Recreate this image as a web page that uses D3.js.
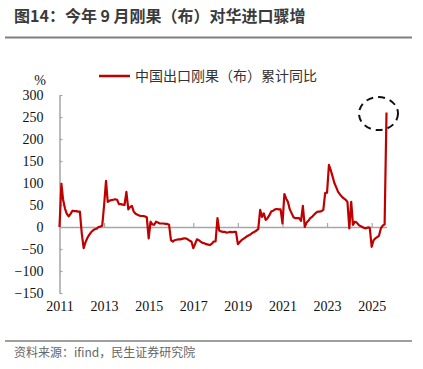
<!DOCTYPE html>
<html>
<head>
<meta charset="utf-8">
<script src="https://cdn.jsdelivr.net/npm/d3@7"></script>
<style>
  html, body { margin: 0; padding: 0; background: #fff; }
  svg { display: block; }
</style>
</head>
<body>
<svg id="chart" width="423" height="369"></svg>
<script>
// ---- data ----
const title = "图14：今年 9 月刚果（布）对华进口骤增";
const source = "资料来源：ifind，民生证券研究院";
const seriesName = "中国出口刚果（布）累计同比";
const startMonth = "2011-01";   // first month of the series
const yTicks = [300, 250, 200, 150, 100, 50, 0, -50, -100, -150];
const xTickYears = [2011, 2013, 2015, 2017, 2019, 2021, 2023, 2025];
// monthly cumulative YoY (%), Jan 2011 .. Sep 2025
const values2011 = [0, 98, 62, 42, 30, 24, 30, 37, 36, 36, 35, 35];
const values2012 = [-15, -48, -35, -25, -18, -12, -8, -5, -4, 0, 1, 3];
const values2013 = [50, 105, 57, 60, 61, 62, 63, 62, 52, 52, 51, 50];
const values2014 = [80, 40, 45, 48, 35, 30, 28, 26, 25, 25, 24, 22];
const values2015 = [-26, 12, 6, 5, 12, 10, 8, 8, 8, 7, 7, 5];
const values2016 = [-30, -33, -30, -29, -28, -28, -27, -26, -26, -28, -31, -33];
const values2017 = [-48, -38, -28, -30, -33, -36, -37, -39, -40, -41, -38, -33];
const values2018 = [-33, 20, -8, -10, -11, -11, -13, -12, -11, -12, -11, -11];
const values2019 = [-39, -34, -30, -27, -24, -21, -19, -16, -13, -11, -8, -5];
const values2020 = [39, 23, 31, 16, 20, 27, 35, 37, 40, 41, 40, 40];
const values2021 = [8, 75, 65, 57, 40, 31, 22, 20, 20, 20, 14, 48];
const values2022 = [0, 10, 14, 20, 23, 28, 32, 35, 35, 36, 39, 77];
const values2023 = [78, 141, 130, 115, 100, 90, 80, 74, 69, 65, 62, 57];
const values2024 = [-3, 57, 5, 12, 10, 5, 2, 0, -2, -3, -1, -2];
const values2025 = [-45, -30, -26, -23, -20, -3, 3, 6, 260];

const values = [].concat(values2011, values2012, values2013, values2014, values2015,
  values2016, values2017, values2018, values2019, values2020, values2021,
  values2022, values2023, values2024, values2025);

const parseMonth = d3.timeParse("%Y-%m");
const t0 = parseMonth(startMonth);
const data = values.map((v, i) => ({ date: d3.timeMonth.offset(t0, i), value: v }));

// ---- layout ----
const svg = d3.select("#chart");
const W = 423, H = 369;
const x = d3.scaleTime()
  .domain([t0, data[data.length - 1].date])
  .range([59.5, 386.5]);
const y = d3.scaleLinear().domain([-150, 300]).range([293, 95]);

// title
svg.append("text")
  .attr("x", 14).attr("y", 22)
  .attr("font-family", "'Noto Sans CJK SC', 'Noto Sans', sans-serif")
  .attr("font-size", 16).attr("font-weight", "bold")
  .attr("fill", "#3a3a3a")
  .text(title);
svg.append("line")
  .attr("x1", 5).attr("x2", 412).attr("y1", 37.5).attr("y2", 37.5)
  .attr("stroke", "#7f7f7f").attr("stroke-width", 2);

// bottom rule and source
svg.append("line")
  .attr("x1", 5).attr("x2", 412).attr("y1", 341).attr("y2", 341)
  .attr("stroke", "#7f7f7f").attr("stroke-width", 1.5);
svg.append("text")
  .attr("x", 14).attr("y", 357)
  .attr("font-family", "'Noto Sans CJK SC', sans-serif")
  .attr("font-size", 12).attr("fill", "#666")
  .text(source);

const serif = "'Liberation Serif', 'Times New Roman', serif";

// y axis
const yAxis = d3.axisLeft(y).tickValues(yTicks).tickSize(-3).tickPadding(16).tickSizeOuter(0);
const gy = svg.append("g").attr("transform", "translate(59.5,0)").call(yAxis);
gy.select(".domain").attr("stroke", "#a6a6a6").attr("stroke-width", 1.5);
gy.selectAll(".tick line").attr("stroke", "#a6a6a6").attr("stroke-width", 1.2);
gy.selectAll(".tick text").attr("font-family", serif).attr("font-size", 14).attr("fill", "#111");

// x axis line at zero with small upward ticks
const xTickDates = xTickYears.map(yr => new Date(yr, 0, 1));
const xAxisZero = d3.axisTop(x).tickValues(xTickDates).tickSize(4).tickSizeOuter(0).tickFormat("");
const gx = svg.append("g").attr("transform", `translate(0,${y(0)})`).call(xAxisZero);
gx.select(".domain").attr("stroke", "#a6a6a6").attr("stroke-width", 1.5);
gx.selectAll(".tick line").attr("stroke", "#a6a6a6").attr("stroke-width", 1.2);

// x labels at bottom
const xAxisLabels = d3.axisBottom(x).tickValues(xTickDates).tickSize(0).tickPadding(0)
  .tickFormat(d3.timeFormat("%Y"));
const gxl = svg.append("g").attr("transform", "translate(0,301)").call(xAxisLabels);
gxl.select(".domain").remove();
gxl.selectAll(".tick text").attr("font-family", serif).attr("font-size", 14).attr("fill", "#111");

// % unit
svg.append("text").attr("x", 40).attr("y", 85)
  .attr("font-family", serif).attr("font-size", 14).attr("fill", "#111")
  .attr("text-anchor", "middle").text("%");

// legend
svg.append("line").attr("x1", 99).attr("x2", 130).attr("y1", 76).attr("y2", 76)
  .attr("stroke", "#c00000").attr("stroke-width", 2.5);
svg.append("text").attr("x", 135).attr("y", 81)
  .attr("font-family", "'Noto Sans CJK SC', sans-serif")
  .attr("font-size", 14).attr("fill", "#333")
  .text(seriesName);

// line
const line = d3.line().x(d => x(d.date)).y(d => y(d.value));
svg.append("path").datum(data)
  .attr("d", line)
  .attr("fill", "none")
  .attr("stroke", "#c00000")
  .attr("stroke-width", 2.2)
  .attr("stroke-linejoin", "round");

// dashed highlight ellipse around last point
const last = data[data.length - 1];
svg.append("ellipse")
  .attr("cx", x(last.date) - 8).attr("cy", y(last.value) + 1)
  .attr("rx", 19.5).attr("ry", 16.5)
  .attr("fill", "none").attr("stroke", "#111")
  .attr("stroke-width", 2).attr("stroke-dasharray", "7,5");
</script>
</body>
</html>
